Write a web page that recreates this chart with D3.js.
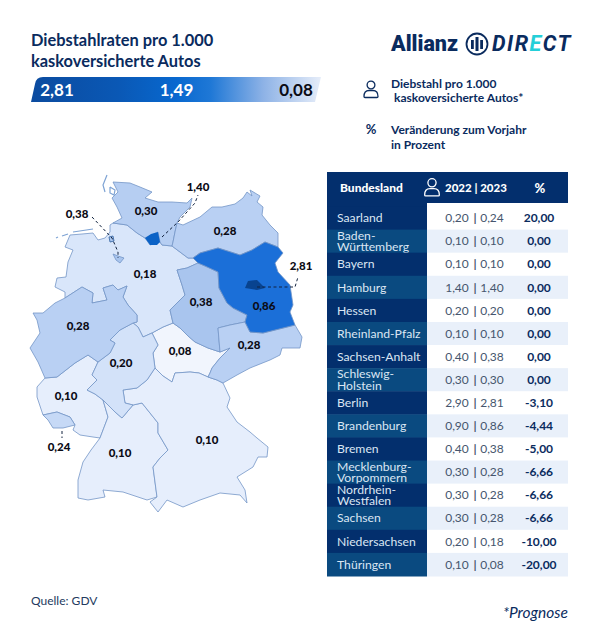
<!DOCTYPE html>
<html lang="de">
<head>
  <meta charset="UTF-8">
  <title>Diebstahlraten pro 1.000 kaskoversicherte Autos</title>
  <style>
    html, body { margin: 0; padding: 0; background: #fff; }
    svg { display: block; font-family: Lato, "Open Sans", sans-serif; }
  </style>
</head>
<body>
<svg width="602" height="637"></svg>
<script src="https://d3js.org/d3.v7.min.js"></script>
<script>
  // table values
  const states = ["Saarland", "Baden-Württemberg", "Bayern", "Hamburg", "Hessen", "Rheinland-Pfalz", "Sachsen-Anhalt",
    "Schleswig-Holstein", "Berlin", "Brandenburg", "Bremen", "Mecklenburg-Vorpommern", "Nordrhein-Westfalen",
    "Sachsen", "Niedersachsen", "Thüringen"];
  const rate2022 = [0.20, 0.10, 0.10, 1.40, 0.20, 0.10, 0.40, 0.30, 2.90, 0.90, 0.40, 0.30, 0.30, 0.30, 0.20, 0.10];
  const rate2023 = [0.24, 0.10, 0.10, 1.40, 0.20, 0.10, 0.38, 0.30, 2.81, 0.86, 0.38, 0.28, 0.28, 0.28, 0.18, 0.08];
  const change = [20.00, 0, 0, 0, 0, 0, 0, 0, -3.10, -4.44, -5.00, -6.66, -6.66, -6.66, -10.00, -20.00];
  const rampLabels = [2.81, 1.49, 0.08];

  // two-line names in the first column
  const nameLines = {
    "Baden-Württemberg": ["Baden-", "Württemberg"],
    "Schleswig-Holstein": ["Schleswig-", "Holstein"],
    "Mecklenburg-Vorpommern": ["Mecklenburg-", "Vorpommern"],
    "Nordrhein-Westfalen": ["Nordrhein-", "Westfalen"]
  };

  // outlines, in map units
  const outlines = {
    "Thüringen": [[173,323],[180,328],[188,336],[195,342],[208,348],[220,352],[230,348],[220,358],[212,368],[210,373],[208,377],[199,373],[190,372],[175,373],[172,382],[163,376],[155,368],[153,353],[158,345],[152,333],[163,327]],
    "Niedersachsen": [[70,235],[82,234],[93,233],[98,240],[105,238],[110,232],[110,225],[113,223],[127,225],[137,233],[145,238],[150,245],[160,242],[162,245],[172,246],[180,252],[188,258],[193,258],[198,263],[187,268],[177,270],[182,285],[185,295],[170,310],[173,323],[163,327],[152,333],[143,337],[138,327],[133,323],[137,322],[137,315],[128,305],[123,297],[127,286],[118,290],[113,285],[103,288],[107,300],[92,303],[93,293],[82,287],[65,298],[65,292],[55,287],[57,278],[66,277],[68,262],[73,250],[65,247]],
    "Rheinland-Pfalz": [[37,387],[45,378],[57,377],[66,370],[75,363],[88,355],[98,362],[92,375],[97,380],[87,390],[95,394],[103,400],[108,417],[100,438],[93,437],[80,435],[73,430],[75,425],[70,417],[57,412],[43,415],[37,397]],
    "Baden-Württemberg": [[100,438],[108,417],[103,400],[115,412],[122,418],[133,405],[142,403],[150,413],[158,423],[158,433],[168,450],[160,458],[153,467],[155,482],[157,497],[147,500],[138,497],[123,492],[103,490],[105,497],[88,500],[78,498],[78,480],[83,462],[91,450]],
    "Bayern": [[155,368],[163,376],[172,382],[175,373],[190,372],[199,373],[208,377],[217,380],[223,383],[230,398],[227,407],[237,422],[250,432],[257,438],[268,447],[267,457],[258,457],[253,467],[237,477],[245,490],[247,503],[240,495],[220,493],[200,500],[183,507],[167,500],[158,512],[150,502],[157,497],[155,482],[153,467],[160,458],[168,450],[158,433],[158,423],[150,413],[142,403],[133,405],[125,403],[123,390],[137,388],[147,380]],
    "Hessen": [[110,340],[120,330],[133,323],[138,327],[143,337],[152,333],[158,345],[153,353],[155,368],[147,380],[137,388],[123,390],[125,403],[133,405],[122,418],[115,412],[103,400],[95,394],[87,390],[97,380],[92,375],[98,362],[110,353],[115,343]],
    "Nordrhein-Westfalen": [[33,313],[43,313],[55,303],[65,298],[82,287],[93,293],[92,303],[107,300],[103,288],[113,285],[118,290],[127,286],[123,297],[128,305],[137,315],[137,322],[133,323],[120,330],[110,340],[115,343],[110,353],[98,362],[88,355],[75,363],[66,370],[57,377],[45,378],[38,362],[30,348],[40,333],[37,320]],
    "Schleswig-Holstein": [[113,182],[130,183],[140,187],[152,192],[145,198],[158,202],[172,202],[187,203],[192,198],[190,207],[180,217],[177,223],[175,232],[173,242],[172,246],[162,245],[160,242],[158,232],[145,238],[137,233],[127,225],[113,223],[122,218],[117,207],[112,198],[118,192]],
    "Mecklenburg-Vorpommern": [[177,223],[183,225],[200,217],[212,207],[222,207],[235,204],[243,198],[247,192],[252,196],[250,190],[260,196],[257,202],[263,207],[262,215],[270,225],[278,233],[278,247],[265,242],[252,250],[240,255],[218,248],[200,253],[193,258],[188,258],[180,252],[172,246],[173,242],[175,232]],
    "Sachsen-Anhalt": [[198,263],[205,266],[218,272],[219,288],[227,303],[233,308],[247,315],[245,322],[230,325],[218,328],[220,352],[208,348],[195,342],[188,336],[180,328],[173,323],[170,310],[185,295],[182,285],[177,270],[187,268]],
    "Sachsen": [[218,328],[230,325],[245,322],[250,332],[263,333],[295,325],[302,337],[300,348],[282,348],[280,355],[270,360],[250,368],[237,375],[223,383],[217,380],[208,377],[210,373],[212,368],[220,358],[230,348],[220,352]],
    "Brandenburg": [[193,258],[200,253],[218,248],[240,255],[252,250],[265,242],[278,247],[283,253],[275,263],[278,272],[290,285],[293,305],[290,312],[295,325],[263,333],[250,332],[245,322],[247,315],[233,308],[227,303],[219,288],[218,272],[205,266],[198,263]],
    "Berlin": [[245,288],[248,281],[257,280],[262,285],[265,288],[257,290]],
    "Hamburg": [[145,238],[151,234],[158,232],[160,242],[157,245],[150,245]],
    "Saarland": [[43,415],[57,412],[70,417],[75,425],[63,428],[53,428],[48,420]],
    "Bremen": [[113,254],[118,256],[124,258],[120,263],[116,260]]
  };
  const bremerhaven = [[109,237],[113,236],[114,241],[110,242]];
  const islands = [
    [[56,238],[58,237]], [[62,236],[68,234]], [[73,232],[93,229]],
    [[107,175],[103,185],[105,192]], [[110,187],[115,190],[114,195],[110,193],[110,187]]
  ];

  // where the numbers sit on the map
  const mapLabels = {
    "Hamburg": [198,187], "Bremen": [77,214], "Schleswig-Holstein": [146,211], "Mecklenburg-Vorpommern": [225,231],
    "Berlin": [301,266], "Niedersachsen": [145,274], "Sachsen-Anhalt": [201,302], "Brandenburg": [264,306],
    "Nordrhein-Westfalen": [78,326], "Hessen": [121,363], "Thüringen": [180,351], "Sachsen": [249,345],
    "Rheinland-Pfalz": [66,396], "Saarland": [59,447], "Baden-Württemberg": [120,453], "Bayern": [207,440]
  };
  const leaders = [
    [[162,237],[178,222],[195,203],[198,195]],
    [[92,217],[112,238],[118,252],[118,258]],
    [[257,287],[295,287],[298,277]],
    [[62,431],[62,438]]
  ];

  const navy = "#0a2b5e";
  const fmt = v => v.toFixed(2).replace(".", ",");
  const svg = d3.select("svg");

  // title
  svg.append("g").selectAll("text")
    .data(["Diebstahlraten pro 1.000", "kaskoversicherte Autos"])
    .join("text")
    .attr("x", 31)
    .attr("y", (d, i) => 46 + i * 20.5)
    .attr("fill", navy)
    .attr("font-size", 16.4)
    .attr("font-weight", 700)
    .text(d => d);

  // gradient bar
  const defs = svg.append("defs");
  const grad = defs.append("linearGradient").attr("id", "ramp");
  [[0, "#0b4b9f"], [0.3, "#0a58b5"], [0.5, "#0868cf"], [0.62, "#1f78d6"], [0.8, "#8db2e6"], [1, "#e6edf9"]]
    .forEach(s => grad.append("stop").attr("offset", s[0]).attr("stop-color", s[1]));
  svg.append("path")
    .attr("d", "M31 102 L35 84 Q36 77 43 77 L321 77 L315 102 Z")
    .attr("fill", "url(#ramp)");
  const rampX = d3.scalePoint().domain(rampLabels).range([57, 296]);
  svg.append("g").selectAll("text")
    .data(rampLabels)
    .join("text")
    .attr("x", d => rampX(d))
    .attr("y", 96)
    .attr("text-anchor", "middle")
    .attr("fill", (d, i) => i === 2 ? "#0b0b14" : "#fff")
    .attr("font-size", 17)
    .attr("font-weight", 700)
    .text(fmt);

  // logo
  svg.append("text").attr("x", 391).attr("y", 51)
    .attr("fill", navy).attr("font-size", 21.5).attr("font-weight", 900)
    .style("font-family", "Roboto, Lato, sans-serif")
    .text("Allianz");
  const emblem = svg.append("g").attr("transform", "translate(477,44)").attr("fill", navy);
  emblem.append("circle").attr("r", 10.5).attr("fill", "none").attr("stroke", navy).attr("stroke-width", 1.8);
  emblem.append("rect").attr("x", -1.5).attr("y", -7).attr("width", 3).attr("height", 14);
  emblem.append("rect").attr("x", -6).attr("y", -4).attr("width", 2.8).attr("height", 9);
  emblem.append("rect").attr("x", 3.2).attr("y", -4).attr("width", 2.8).attr("height", 9);
  const direct = svg.append("text").attr("x", 492).attr("y", 51)
    .attr("fill", navy).attr("font-size", 21.5).attr("font-weight", 700).attr("font-style", "italic")
    .attr("letter-spacing", 1.5)
    .style("font-family", "Roboto, Lato, sans-serif");
  direct.append("tspan").text("DIR");
  direct.append("tspan").attr("fill", "#25cfd8").text("E");
  direct.append("tspan").text("CT");

  // person icon, also used in the table header
  function person(g, color, k) {
    g.append("circle").attr("cy", -4 * k).attr("r", 3.9 * k)
      .attr("fill", "none").attr("stroke", color).attr("stroke-width", 1.3);
    g.append("path")
      .attr("d", `M${-7 * k} ${7.5 * k} Q${-7 * k} ${1.5 * k} ${-2 * k} ${1.5 * k} L${2 * k} ${1.5 * k} Q${7 * k} ${1.5 * k} ${7 * k} ${7.5 * k} Q${7 * k} ${8.5 * k} ${6 * k} ${8.5 * k} L${-6 * k} ${8.5 * k} Q${-7 * k} ${8.5 * k} ${-7 * k} ${7.5 * k} Z`)
      .attr("fill", "none").attr("stroke", color).attr("stroke-width", 1.3);
  }

  // legend
  person(svg.append("g").attr("transform", "translate(371,89)"), navy, 1);
  svg.append("text").attr("x", 371).attr("y", 134).attr("text-anchor", "middle")
    .attr("fill", navy).attr("font-size", 13).attr("font-weight", 700).text("%");
  const legendText = [
    ["Diebstahl pro 1.000", 391, 88], ["kaskoversicherte Autos*", 394, 102],
    ["Veränderung zum Vorjahr", 391, 134], ["in Prozent", 391, 149]
  ];
  svg.append("g").selectAll("text")
    .data(legendText)
    .join("text")
    .attr("x", d => d[1])
    .attr("y", d => d[2])
    .attr("fill", navy)
    .attr("font-size", 12)
    .attr("font-weight", 700)
    .text(d => d[0]);

  // map
  const rateOf = name => rate2023[states.indexOf(name)];
  const color = d3.scaleLinear()
    .domain([0.08, 0.10, 0.18, 0.28, 0.38, 0.86, 1.40, 2.81])
    .range(["#f1f5fd", "#e6eefc", "#d9e6fa", "#b9d0f3", "#a9c5ee", "#1b6fd8", "#0b62c6", "#08438f"]);
  const ringToFeature = (ring, name) => ({
    type: "Feature",
    properties: { name },
    geometry: { type: "Polygon", coordinates: [ring.concat([ring[0]])] }
  });
  const features = Object.keys(outlines).map(name => ringToFeature(outlines[name], name));
  const geo = d3.geoPath(d3.geoIdentity());

  const map = svg.append("g");
  map.selectAll("path.state")
    .data(features)
    .join("path")
    .attr("class", "state")
    .attr("d", geo)
    .attr("fill", d => color(rateOf(d.properties.name)))
    .attr("stroke", d => rateOf(d.properties.name) > 1 ? "none" : "#7396c6")
    .attr("stroke-width", 0.8)
    .attr("stroke-linejoin", "round");
  map.append("path")
    .datum(ringToFeature(bremerhaven, "Bremen"))
    .attr("d", geo)
    .attr("fill", color(rateOf("Bremen")))
    .attr("stroke", "#2f5f9e")
    .attr("stroke-width", 0.8);

  const line = d3.line();
  map.selectAll("path.island")
    .data(islands)
    .join("path")
    .attr("class", "island")
    .attr("d", line)
    .attr("fill", "none")
    .attr("stroke", "#7ea3d4")
    .attr("stroke-width", 1.2);

  map.selectAll("path.leader")
    .data(leaders)
    .join("path")
    .attr("class", "leader")
    .attr("d", line)
    .attr("fill", "none")
    .attr("stroke", "#12233f")
    .attr("stroke-width", 1)
    .attr("stroke-dasharray", "3 2.5");

  map.append("g").selectAll("text")
    .data(Object.keys(mapLabels))
    .join("text")
    .attr("x", d => mapLabels[d][0])
    .attr("y", d => mapLabels[d][1] + 4)
    .attr("text-anchor", "middle")
    .attr("fill", "#0b0b14")
    .attr("font-size", 11.5)
    .attr("font-weight", 900)
    .text(d => fmt(rateOf(d)));

  // table
  const tableLeft = 327, splitX = 427, tableRight = 568;
  const rowY = d3.scaleBand().domain(states).range([206.5, 576]);
  const table = svg.append("g");

  table.append("rect").attr("x", tableLeft).attr("y", 172)
    .attr("width", tableRight - tableLeft).attr("height", 31).attr("fill", "#032f6d");
  table.append("rect").attr("x", tableLeft).attr("y", 203)
    .attr("width", splitX - tableLeft).attr("height", 4).attr("fill", "#032f6d");
  table.append("text").attr("x", 340).attr("y", 192).attr("fill", "#fff")
    .attr("font-size", 12).attr("font-weight", 900).text("Bundesland");
  person(table.append("g").attr("transform", "translate(432,187) "), "#fff", 1.05);
  table.append("text").attr("x", 445).attr("y", 192).attr("fill", "#fff")
    .attr("font-size", 11.5).attr("font-weight", 900).text("2022 | 2023");
  table.append("text").attr("x", 540).attr("y", 193).attr("text-anchor", "middle").attr("fill", "#fff")
    .attr("font-size", 13).attr("font-weight", 900).text("%");

  const rows = table.selectAll("g.row")
    .data(states)
    .join("g")
    .attr("class", "row")
    .attr("transform", d => `translate(0,${rowY(d)})`);
  const rowH = rowY.bandwidth();

  rows.append("rect").attr("x", tableLeft).attr("width", splitX - tableLeft).attr("height", rowH + 0.5)
    .attr("fill", (d, i) => i % 2 ? "#0a4a80" : "#032f6d");
  rows.append("rect").attr("x", splitX).attr("width", tableRight - splitX).attr("height", rowH + 0.5)
    .attr("fill", (d, i) => i % 2 ? "#e9f0fa" : "#fff");

  rows.each(function (d, i) {
    const g = d3.select(this);
    const lines = nameLines[d] || [d];
    const lineH = 11.5;
    const mid = rowH / 2 + 4.2;
    g.append("text")
      .attr("fill", "#dbe6f3")
      .attr("font-size", 12.2)
      .selectAll("tspan")
      .data(lines)
      .join("tspan")
      .attr("x", 337)
      .attr("y", (t, j) => mid + (j - (lines.length - 1) / 2) * lineH)
      .text(t => t);
    g.append("text").attr("x", 457).attr("y", mid).attr("text-anchor", "middle")
      .attr("fill", "#46566e").attr("font-size", 12).text(fmt(rate2022[i]));
    g.append("text").attr("x", 475).attr("y", mid).attr("text-anchor", "middle")
      .attr("fill", "#46566e").attr("font-size", 12).attr("font-weight", 700).text("|");
    g.append("text").attr("x", 492).attr("y", mid).attr("text-anchor", "middle")
      .attr("fill", "#46566e").attr("font-size", 12).text(fmt(rate2023[i]));
    g.append("text").attr("x", 539).attr("y", mid).attr("text-anchor", "middle")
      .attr("fill", navy).attr("font-size", 12).attr("font-weight", 700).text(fmt(change[i]));
  });

  // footer
  svg.append("text").attr("x", 31).attr("y", 605).attr("fill", "#233a5e")
    .attr("font-size", 12).text("Quelle: GDV");
  svg.append("text").attr("x", 568).attr("y", 618).attr("text-anchor", "end").attr("fill", navy)
    .attr("font-size", 15.5).attr("font-style", "italic").text("*Prognose");
</script>
</body>
</html>
